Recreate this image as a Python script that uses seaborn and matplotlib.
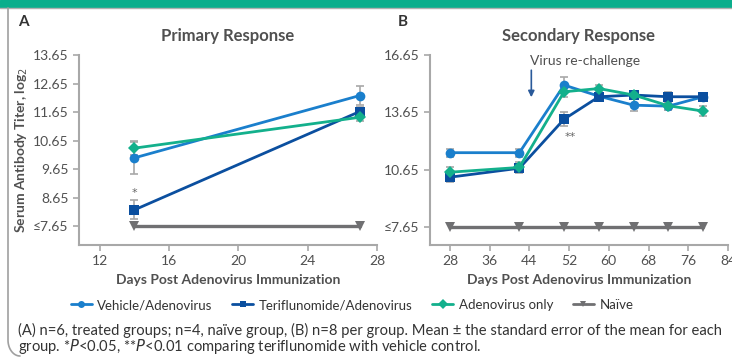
import numpy as np
import pandas as pd
import matplotlib
matplotlib.use("Agg")
import matplotlib.pyplot as plt
import seaborn as sns
from matplotlib.lines import Line2D
from matplotlib.patches import Rectangle

# ---- data ----
groups = ["Vehicle/Adenovirus", "Teriflunomide/Adenovirus", "Adenovirus only", "Naïve"]

days_a = [14, 27]
vehicle_a = [10.05, 12.23]
vehicle_a_err = [0.55, 0.32]
teri_a = [8.23, 11.67]
teri_a_err = [0.33, 0.15]
adeno_a = [10.39, 11.47]
adeno_a_err = [0.25, 0.13]
naive_a = [7.65, 7.65]

days_b = [28, 42, 51, 58, 65, 72, 79]
vehicle_b = [11.55, 11.55, 15.08, 14.50, 14.03, 13.98, 14.47]
vehicle_b_err = [0.2, 0.2, 0.4, 0.15, 0.3, 0.2, 0.15]
teri_b = [10.27, 10.74, 13.30, 14.47, 14.56, 14.47, 14.47]
teri_b_err = [0.25, 0.2, 0.35, 0.15, 0.2, 0.25, 0.15]
adeno_b = [10.53, 10.78, 14.73, 14.90, 14.56, 14.00, 13.72]
adeno_b_err = [0.25, 0.3, 0.25, 0.2, 0.2, 0.2, 0.25]
naive_b = [7.65] * 7

yticks_a = [7.65, 8.65, 9.65, 10.65, 11.65, 12.65, 13.65]
yticks_b = [7.65, 10.65, 13.65, 16.65]

colors = ["#1a7fcc", "#0b4f9f", "#13b08c", "#707072"]
markers = ["o", "s", "D", "v"]
msizes = [7, 7, 6.5, 7.5]

sns.set_theme(style="white")
plt.rcParams["font.family"] = ["Lato", "DejaVu Sans"]
txt = "#505050"


def make_df(days, series):
    rows = []
    for g, vals in zip(groups, series):
        for d, v in zip(days, vals):
            rows.append({"day": d, "titer": v, "group": g})
    return pd.DataFrame(rows)


fig = plt.figure(figsize=(7.32, 3.60), dpi=100)
ax1 = fig.add_axes([79 / 732, 115 / 360, 298 / 732, 190 / 360])
ax2 = fig.add_axes([430 / 732, 115 / 360, 298 / 732, 190 / 360])

panels = [
    (ax1, days_a, [vehicle_a, teri_a, adeno_a, naive_a],
     [vehicle_a_err, teri_a_err, adeno_a_err, None]),
    (ax2, days_b, [vehicle_b, teri_b, adeno_b, naive_b],
     [vehicle_b_err, teri_b_err, adeno_b_err, None]),
]

for ax, days, series, errs in panels:
    df = make_df(days, series)
    for g, e in zip(groups, errs):
        if e is not None:
            sub = df[df.group == g]
            ax.errorbar(sub.day, sub.titer, yerr=e, fmt="none", ecolor="#a8a8a8",
                        elinewidth=1.2, capsize=3, capthick=1.2, zorder=1)
    sns.lineplot(data=df, x="day", y="titer", hue="group", style="group",
                 hue_order=groups, style_order=groups,
                 palette=colors, markers=markers, dashes=False, linewidth=2,
                 markersize=7, markeredgewidth=0, legend=False, ax=ax, zorder=3)
    for ln, ms in zip(ax.get_lines()[-4:], msizes):
        ln.set_markersize(ms)
    ax.get_lines()[-1].set_linewidth(2.4)
    ax.set_xlabel("Days Post Adenovirus Immunization", fontsize=10,
                  fontweight="bold", color=txt, labelpad=5)
    ax.set_ylabel("")
    for s in ["top", "right"]:
        ax.spines[s].set_visible(False)
    for s in ["left", "bottom"]:
        ax.spines[s].set_color("#a8a8a8")
        ax.spines[s].set_linewidth(1.5)
    ax.tick_params(axis="both", colors="#a8a8a8", labelcolor=txt, labelsize=10,
                   length=4, width=1.2, direction="out", bottom=True, left=True)

# panel A
ax1.set_xlim(10.8, 28)
ax1.set_ylim(7.0, 13.65)
ax1.set_xticks([12, 16, 20, 24, 28])
ax1.set_yticks(yticks_a)
ax1.set_yticklabels(["≤7.65"] + [f"{v:.2f}" for v in yticks_a[1:]])
ax1.set_title("Primary Response", fontsize=12, fontweight="bold", color=txt, pad=10)
ax1.text(14, 8.82, "*", ha="center", va="center", fontsize=8, color="#666666",
         family="DejaVu Sans")
ax1.set_ylabel("Serum Antibody Titer, log$_2$", fontsize=10, fontweight="bold",
               color=txt, labelpad=2)

# panel B
ax2.set_xlim(24, 84)
ax2.set_ylim(6.73, 16.65)
ax2.set_xticks([28, 36, 44, 52, 60, 68, 76, 84])
ax2.set_yticks(yticks_b)
ax2.set_yticklabels(["≤7.65"] + [f"{v:.2f}" for v in yticks_b[1:]])
ax2.set_title("Secondary Response", fontsize=12, fontweight="bold", color=txt, pad=10)
ax2.text(52.2, 12.35, "**", ha="center", va="center", fontsize=8, color="#666666",
         family="DejaVu Sans")
ax2.annotate("", xy=(44.4, 14.3), xytext=(44.4, 16.0),
             arrowprops=dict(arrowstyle="-|>", color="#2a5a9a", lw=1.2,
                             mutation_scale=9))
ax2.text(44.2, 16.35, "Virus re-challenge", ha="left", va="center",
         fontsize=10, color=txt)

for ax in (ax1, ax2):
    for ln in ax.get_lines():
        ln.set_clip_on(False)

# panel letters
fig.text(18 / 732, 1 - 22 / 360, "A", fontsize=11, fontweight="bold", color="#333333",
         va="center")
fig.text(398 / 732, 1 - 22 / 360, "B", fontsize=11, fontweight="bold", color="#333333",
         va="center")

# legend
handles = [Line2D([0], [0], color=c, marker=m, markersize=5, lw=2, markeredgewidth=0)
           for c, m in zip(colors, markers)]
fig.legend(handles, groups, loc="center", bbox_to_anchor=(352 / 732, 1 - 305 / 360),
           ncol=4, frameon=False, fontsize=9.5, handlelength=1.6, handletextpad=0.4,
           columnspacing=1.5, labelcolor="#333333")

# footnote
fig.text(18 / 732, 1 - 330 / 360,
         "(A) n=6, treated groups; n=4, naïve group, (B) n=8 per group. "
         "Mean ± the standard error of the mean for each",
         fontsize=10.6, color="#333333", va="center")
fig.text(18 / 732, 1 - 347 / 360,
         "group. *$P$<0.05, **$P$<0.01 comparing teriflunomide with vehicle control.",
         fontsize=10.6, color="#333333", va="center")

# top band and frame
fig.patches.append(Rectangle((0, 1 - 7 / 360), 1, 7 / 360, transform=fig.transFigure,
                             color="#0aae8c", zorder=0))
fig.lines.append(Line2D([0, 1], [1 - 7.5 / 360] * 2, transform=fig.transFigure,
                        color="#b0b0b0", lw=1))
t = np.linspace(0, np.pi / 2, 20)
fx = list(np.full(2, 8.0)) + list(8 + 12 * (1 - np.cos(t)))
fy = [8, 340] + list(340 + 16 * np.sin(t))
fig.lines.append(Line2D(np.array(fx) / 732, 1 - np.array(fy) / 360,
                        transform=fig.transFigure, color="#a0a0a0", lw=1.2))

fig.savefig("out.png", dpi=100)
